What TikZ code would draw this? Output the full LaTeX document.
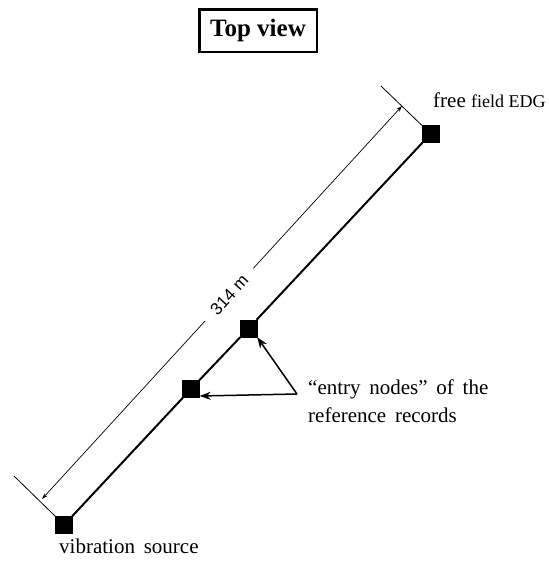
\documentclass[tikz,border=0pt]{standalone}
\usepackage{fontspec}
\setmainfont{Liberation Serif}
\newfontfamily\dimfont{Liberation Sans}
\usetikzlibrary{arrows.meta}

\tikzset{
  station/.style={draw=black, fill=black, minimum size=17pt, inner sep=0pt},
  profile/.style={line width=2pt},
  dimline/.style={line width=0.7pt},
  extline/.style={line width=0.8pt},
  pointer/.style={line width=1.5pt, -{Stealth[length=11pt,width=8pt,inset=3.5pt]}},
  caption/.style={inner sep=0pt, font=\fontsize{21}{28}\selectfont},
}

\begin{document}
\begin{tikzpicture}[x=1pt, y=-1pt]
  \useasboundingbox (0,0) rectangle (549,566);

  % heading
  \node[draw, line width=2.5pt, minimum width=117.5pt, minimum height=42.5pt,
        font=\fontsize{25}{25}\selectfont\bfseries] (title) at (258,30.5) {Top view};

  % measurement stations along the profile
  \node[station] (src) at (64,525) {};
  \node[station] (n2)  at (191,389) {};
  \node[station] (n1)  at (248.5,328.5) {};
  \node[station] (edg) at (430.5,134) {};

  \draw[profile] (src) -- (n2) -- (n1) -- (edg);

  % dimension with extension lines
  \coordinate (extA) at (14,476);
  \coordinate (extB) at (381,86);
  \coordinate (dimA) at (42,499);
  \coordinate (dimB) at (402,106);
  \draw[extline] (extA) -- (src.north west);
  \draw[extline] (extB) -- (edg.north west);
  \draw[dimline, {Stealth[length=6pt,width=4pt]}-{Stealth[length=6pt,width=4pt]}] (dimA) -- (dimB)
    node[pos=0.52, sloped, fill=white, inner xsep=12pt, inner ysep=2pt,
         font=\dimfont\fontsize{17}{17}\selectfont] (len) {314 m};

  % labels
  \node[caption, anchor=base west] (lbledg) at (433,107)
    {free {\fontsize{18}{18}\selectfont field EDG}};
  \node[caption, anchor=base west] (lblsrc) at (59,553) {vibration\, source};

  \coordinate (apex) at (297,394);
  \node[caption, anchor=base west] (lblent1) at (308,394) {“entry\, nodes”\, of\, the};
  \node[caption, anchor=base west] (lblent2) at (308,422) {reference\, records};

  \draw[pointer] (apex) -- (n1.south east);
  \draw[pointer] (apex) -- ([yshift=-7pt]n2.east);
\end{tikzpicture}
\end{document}
